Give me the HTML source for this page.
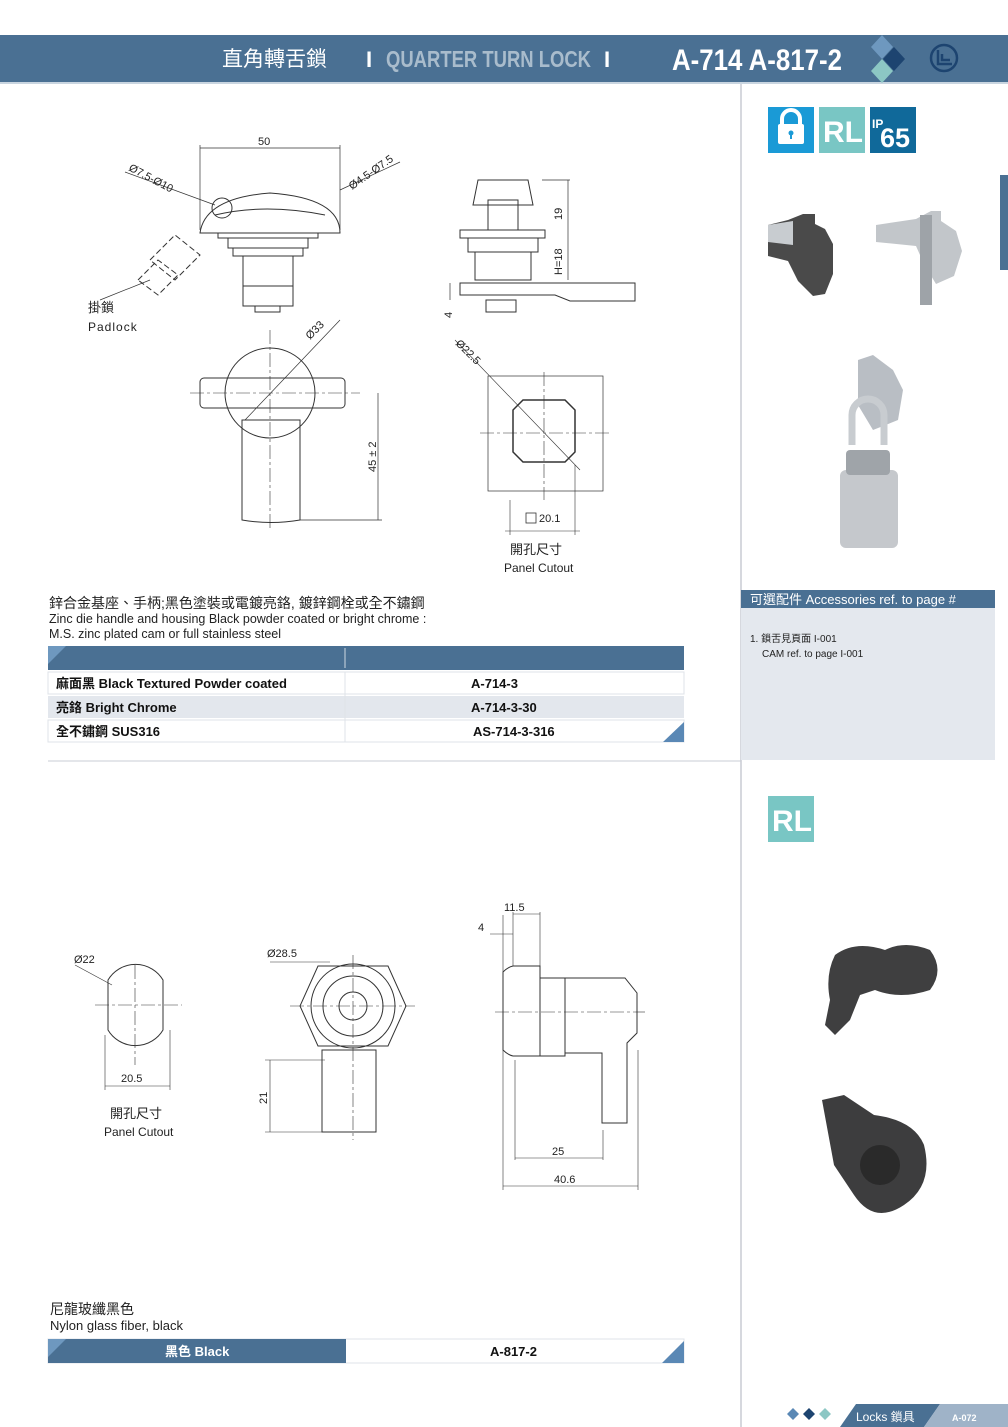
<!DOCTYPE html>
<html><head><meta charset="utf-8">
<style>
html,body{margin:0;padding:0;background:#fff;}
svg{display:block;}
text{font-family:"Liberation Sans","Noto Sans CJK TC",sans-serif;}
</style></head><body>
<svg width="1008" height="1427" viewBox="0 0 1008 1427" xmlns="http://www.w3.org/2000/svg">
<!-- header -->
<rect x="0" y="35" width="1008" height="47" fill="#4a7093"/>
<rect x="0" y="82" width="1008" height="2" fill="#c9d5e0"/>
<text x="222" y="66" font-size="21" fill="#fff">直角轉舌鎖</text>
<text x="366" y="67" font-size="22" fill="#fff" font-weight="bold">I</text>
<text x="386" y="67" font-size="23" fill="#a9bccc" font-weight="bold" textLength="205" lengthAdjust="spacingAndGlyphs">QUARTER TURN LOCK</text>
<text x="604" y="67" font-size="22" fill="#fff" font-weight="bold">I</text>
<text x="672" y="70" font-size="30" fill="#fff" font-weight="bold" textLength="170" lengthAdjust="spacingAndGlyphs">A-714 A-817-2</text>
<polygon points="882,35 893,47 882,59 871,47" fill="#6e98bf"/>
<polygon points="894,47 905,59 894,71 883,59" fill="#1d4470"/>
<polygon points="882,59 893,71 882,83 871,71" fill="#8cc7c4"/>
<circle cx="944" cy="58" r="13" fill="none" stroke="#1d4470" stroke-width="2.5"/>
<path d="M938 50 v14 h14 M942 54 v6 h8" fill="none" stroke="#1d4470" stroke-width="2.5"/>

<!-- sidebar lines -->
<line x1="741" y1="84" x2="741" y2="1427" stroke="#c8ccd4" stroke-width="1.5"/>
<line x1="48" y1="761" x2="741" y2="761" stroke="#c8ccd4" stroke-width="1"/>
<rect x="1000" y="175" width="8" height="95" fill="#4a7093"/>

<!-- icons -->
<rect x="768" y="107" width="46" height="46" fill="#1a9ad6"/>
<path d="M782 125 v-6 a9 9 0 0 1 18 0 v6" fill="none" stroke="#fff" stroke-width="4"/>
<rect x="778" y="124" width="26" height="20" rx="2" fill="#fff"/>
<circle cx="791" cy="133" r="2.5" fill="#1a9ad6"/><rect x="790" y="134" width="2" height="5" fill="#1a9ad6"/>
<rect x="819" y="107" width="46" height="46" fill="#79c6c4"/>
<text x="823" y="142" font-size="30" font-weight="bold" fill="#fff">RL</text>
<rect x="870" y="107" width="46" height="46" fill="#10699a"/>
<text x="872" y="128" font-size="12" font-weight="bold" fill="#fff">IP</text>
<text x="880" y="147" font-size="27" font-weight="bold" fill="#fff">65</text>

<!-- product photos top -->
<path d="M768 225 l20 -5 l15 -6 h12 v10 l10 5 l8 15 v30 l-8 20 l-12 2 l-15 -15 l-10 -20 l-20 -5 z" fill="#4a4a4a"/>
<path d="M768 225 l25 -4 v24 l-25 -3 z" fill="#c8ccd0"/>
<path d="M876 225 l40 -6 l15 -8 h10 v10 l15 10 l6 20 l-8 25 l-18 8 l-12 -20 l-8 -18 l-40 -4 z" fill="#c2c6ca"/>
<path d="M920 215 h12 v90 h-12 z" fill="#9ea3a8"/>
<!-- padlock photo -->
<path d="M858 360 l15 -5 l20 15 l10 20 l-5 30 l-25 10 l-15 -25 z" fill="#b9bec4"/>
<path d="M852 445 v-30 a16 16 0 0 1 32 0 v30" fill="none" stroke="#c8ccd0" stroke-width="7"/>
<rect x="840" y="470" width="58" height="78" rx="6" fill="#c5c8cc"/>
<rect x="846" y="450" width="44" height="25" rx="4" fill="#9fa4a9"/>

<!-- accessories -->
<rect x="741" y="590" width="254" height="170" fill="#e4e8ee"/>
<rect x="741" y="590" width="254" height="18" fill="#4a7093"/>
<text x="750" y="604" font-size="13" fill="#fff">可選配件 Accessories ref. to page #</text>
<text x="750" y="642" font-size="10" fill="#222">1. 鎖舌見頁面 I-001</text>
<text x="762" y="657" font-size="10" fill="#222">CAM  ref. to page I-001</text>

<!-- RL second -->
<rect x="768" y="796" width="46" height="46" fill="#79c6c4"/>
<text x="772" y="831" font-size="30" font-weight="bold" fill="#fff">RL</text>
<!-- bottom photos -->
<path d="M835 955 q20 -15 50 -5 q20 -10 45 0 q15 20 0 40 q-30 10 -55 0 l-15 5 l-10 25 l-15 15 l-10 -10 l5 -25 q-5 -25 5 -45z" fill="#3f3f40"/>
<path d="M822 1100 l22 -5 l30 20 q40 5 50 30 q10 40 -20 60 q-30 20 -50 -10 l-20 -30 z" fill="#3d3d3e"/>
<circle cx="880" cy="1165" r="20" fill="#2a2a2a"/>

<!-- footer -->
<polygon points="787,1414 793,1408 799,1414 793,1420" fill="#5a88b5"/>
<polygon points="803,1414 809,1408 815,1414 809,1420" fill="#1d4470"/>
<polygon points="819,1414 825,1408 831,1414 825,1420" fill="#8cc7c4"/>
<polygon points="840,1427 856,1404 940,1404 924,1427" fill="#4a7093"/>
<polygon points="924,1427 940,1404 1008,1404 1008,1427" fill="#9fb3c8"/>
<text x="856" y="1421" font-size="12" fill="#fff">Locks 鎖具</text>
<text x="952" y="1421" font-size="9" font-weight="bold" fill="#fff">A-072</text>

<!-- top spec text and table -->
<text x="49" y="608" font-size="14" fill="#222">鋅合金基座、手柄;黑色塗裝或電鍍亮鉻, 鍍鋅鋼栓或全不鏽鋼</text>
<text x="49" y="623" font-size="12.5" fill="#222">Zinc die handle and housing Black powder coated or bright chrome :</text>
<text x="49" y="638" font-size="12.5" fill="#222">M.S. zinc plated cam or full stainless steel</text>
<rect x="48" y="646" width="636" height="24" fill="#4a7093"/>
<polygon points="48,646 66,646 48,664" fill="#6e98bf"/>
<line x1="345" y1="648" x2="345" y2="668" stroke="#cfd8e2"/>
<rect x="48" y="672" width="636" height="22" fill="#fff" stroke="#dfe3e8"/>
<rect x="48" y="696" width="636" height="22" fill="#e3e7ed"/>
<rect x="48" y="720" width="636" height="22" fill="#fff" stroke="#dfe3e8"/>
<line x1="345" y1="672" x2="345" y2="742" stroke="#dfe3e8"/>
<polygon points="684,722 684,742 663,742" fill="#5a88b5"/>
<g font-size="13" fill="#111" font-weight="bold">
<text x="56" y="688">麻面黑 Black Textured Powder coated</text>
<text x="471" y="688">A-714-3</text>
<text x="56" y="712">亮鉻 Bright Chrome</text>
<text x="471" y="712">A-714-3-30</text>
<text x="56" y="736">全不鏽鋼 SUS316</text>
<text x="473" y="736">AS-714-3-316</text>
</g>

<!-- bottom spec -->
<text x="50" y="1314" font-size="14" fill="#222">尼龍玻纖黑色</text>
<text x="50" y="1330" font-size="13" fill="#222">Nylon glass fiber, black</text>
<rect x="48" y="1339" width="636" height="24" fill="#fff" stroke="#dfe3e8"/>
<rect x="48" y="1339" width="298" height="24" fill="#4a7093"/>
<polygon points="48,1339 66,1339 48,1357" fill="#6e98bf"/>
<polygon points="684,1341 684,1363 662,1363" fill="#5a88b5"/>
<text x="165" y="1356" font-size="13" fill="#fff" font-weight="bold">黑色 Black</text>
<text x="490" y="1356" font-size="13" fill="#111" font-weight="bold">A-817-2</text>

<!-- ===== drawings ===== -->
<g fill="none" stroke="#333" stroke-width="1">
<!-- top front view -->
<path d="M200 233 q5 -35 70 -40 q70 5 70 40 z"/>
<path d="M215 215 q50 -12 110 0"/>
<rect x="218" y="233" width="100" height="5"/>
<path d="M228 238 h80 v10 h-80 z M233 248 h70 v8 h-70z"/>
<rect x="243" y="256" width="50" height="30"/>
<path d="M243 286 h50 v20 h-50z M255 306 h25 v6 h-25z"/>
<circle cx="222" cy="208" r="10"/>
<line x1="200" y1="145" x2="200" y2="230" stroke-width="0.7"/>
<line x1="340" y1="145" x2="340" y2="230" stroke-width="0.7"/>
<line x1="200" y1="148" x2="340" y2="148" stroke-width="0.7"/>
<line x1="125" y1="172" x2="215" y2="205" stroke-width="0.7"/>
<line x1="340" y1="190" x2="400" y2="162" stroke-width="0.7"/>
<path d="M150 260 l25 -25 l25 20 l-25 25 z M138 280 l20 -20 l20 15 l-20 20z" stroke-dasharray="6 3"/>
<line x1="100" y1="300" x2="150" y2="280" stroke-width="0.7"/>
<!-- side view -->
<path d="M478 180 h50 l5 25 h-60 z"/>
<rect x="488" y="200" width="30" height="30"/>
<rect x="460" y="230" width="85" height="8"/>
<rect x="468" y="238" width="70" height="14"/>
<rect x="475" y="252" width="56" height="28"/>
<path d="M460 283 h175 v18 h-65 l-15 -6 h-95 z"/>
<rect x="486" y="300" width="30" height="12"/>
<line x1="542" y1="180" x2="570" y2="180" stroke-width="0.7"/>
<line x1="568" y1="180" x2="568" y2="280" stroke-width="0.7"/>
<line x1="450" y1="283" x2="450" y2="300" stroke-width="0.7"/>
<!-- top view handle -->
<rect x="200" y="378" width="145" height="30" rx="4"/>
<circle cx="270" cy="393" r="45"/>
<path d="M242 420 h58 v100 q-29 5 -58 0 z"/>
<line x1="270" y1="330" x2="270" y2="530" stroke-dasharray="14 3 3 3" stroke-width="0.6"/>
<line x1="190" y1="393" x2="360" y2="393" stroke-dasharray="14 3 3 3" stroke-width="0.6"/>
<line x1="378" y1="393" x2="378" y2="520" stroke-width="0.7"/>
<line x1="300" y1="520" x2="382" y2="520" stroke-width="0.7"/>
<line x1="245" y1="420" x2="340" y2="320" stroke-width="0.7"/>
<!-- cutout -->
<rect x="488" y="376" width="115" height="115" stroke-width="0.7"/>
<path d="M523 400 h42 l10 10 v42 l-10 10 h-42 l-10 -10 v-42 z" stroke-width="1.5"/>
<line x1="544" y1="372" x2="544" y2="500" stroke-dasharray="14 3 3 3" stroke-width="0.6"/>
<line x1="480" y1="433" x2="610" y2="433" stroke-dasharray="14 3 3 3" stroke-width="0.6"/>
<line x1="510" y1="500" x2="510" y2="535" stroke-width="0.6"/>
<line x1="575" y1="465" x2="575" y2="535" stroke-width="0.6"/>
<line x1="505" y1="531" x2="580" y2="531" stroke-width="0.6"/>
<line x1="455" y1="340" x2="580" y2="470" stroke-width="0.6"/>
<rect x="526" y="513" width="10" height="10" stroke-width="0.8"/>

<!-- bottom: cutout circle -->
<path d="M108 980 a32 32 0 0 1 55 0 v50 a32 32 0 0 1 -55 0 z"/>
<line x1="135" y1="965" x2="135" y2="1065" stroke-dasharray="14 3 3 3" stroke-width="0.6"/>
<line x1="95" y1="1005" x2="182" y2="1005" stroke-dasharray="14 3 3 3" stroke-width="0.6"/>
<line x1="105" y1="1035" x2="105" y2="1090" stroke-width="0.6"/>
<line x1="170" y1="1030" x2="170" y2="1090" stroke-width="0.6"/>
<line x1="105" y1="1086" x2="170" y2="1086" stroke-width="0.6"/>
<line x1="75" y1="965" x2="112" y2="985" stroke-width="0.6"/>
<!-- hex front -->
<path d="M318 966 h70 l18 40 l-18 40 h-70 l-18 -40 z"/>
<circle cx="353" cy="1006" r="42"/>
<circle cx="353" cy="1006" r="30"/>
<circle cx="353" cy="1006" r="14"/>
<path d="M322 1050 h54 v82 h-54z"/>
<line x1="353" y1="955" x2="353" y2="1140" stroke-dasharray="14 3 3 3" stroke-width="0.6"/>
<line x1="290" y1="1006" x2="415" y2="1006" stroke-dasharray="14 3 3 3" stroke-width="0.6"/>
<line x1="265" y1="1060" x2="325" y2="1060" stroke-width="0.6"/>
<line x1="265" y1="1132" x2="325" y2="1132" stroke-width="0.6"/>
<line x1="270" y1="1060" x2="270" y2="1132" stroke-width="0.6"/>
<line x1="270" y1="962" x2="330" y2="962" stroke-width="0.6"/>
<!-- side -->
<path d="M503 972 q5 -5 10 -6 h27 v90 h-27 q-5 -1 -10 -6 z"/>
<rect x="540" y="978" width="25" height="78"/>
<path d="M565 978 h60 l12 15 v40 l-10 10 v80 h-25 v-70 h-37 z"/>
<line x1="495" y1="1012" x2="645" y2="1012" stroke-dasharray="14 3 3 3" stroke-width="0.6"/>
<line x1="503" y1="915" x2="503" y2="1190" stroke-width="0.6"/>
<line x1="513" y1="912" x2="513" y2="966" stroke-width="0.6"/>
<line x1="540" y1="912" x2="540" y2="978" stroke-width="0.6"/>
<line x1="513" y1="914" x2="540" y2="914" stroke-width="0.6"/>
<line x1="490" y1="934" x2="513" y2="934" stroke-width="0.6"/>
<line x1="515" y1="1060" x2="515" y2="1160" stroke-width="0.6"/>
<line x1="603" y1="1130" x2="603" y2="1160" stroke-width="0.6"/>
<line x1="515" y1="1158" x2="603" y2="1158" stroke-width="0.6"/>
<line x1="638" y1="1050" x2="638" y2="1190" stroke-width="0.6"/>
<line x1="503" y1="1186" x2="638" y2="1186" stroke-width="0.6"/>
</g>
<g font-size="11" fill="#222">
<text x="258" y="145">50</text>
<text x="128" y="170" transform="rotate(28 128 170)">Ø7.5-Ø10</text>
<text x="352" y="190" transform="rotate(-35 352 190)">Ø4.5-Ø7.5</text>
<text x="88" y="312" font-size="13">掛鎖</text>
<text x="88" y="331" font-size="12" letter-spacing="1">Padlock</text>
<text x="562" y="220" transform="rotate(-90 562 220)">19</text>
<text x="562" y="275" transform="rotate(-90 562 275)">H=18</text>
<text x="452" y="318" transform="rotate(-90 452 318)">4</text>
<text x="310" y="340" transform="rotate(-45 310 340)">Ø33</text>
<text x="376" y="472" transform="rotate(-90 376 472)">45 ± 2</text>
<text x="455" y="344" transform="rotate(45 455 344)">Ø22.5</text>
<text x="539" y="522">20.1</text>
<text x="510" y="554" font-size="13">開孔尺寸</text>
<text x="504" y="572" font-size="12">Panel Cutout</text>
<text x="74" y="963">Ø22</text>
<text x="121" y="1082">20.5</text>
<text x="110" y="1118" font-size="13">開孔尺寸</text>
<text x="104" y="1136" font-size="12">Panel Cutout</text>
<text x="267" y="957">Ø28.5</text>
<text x="267" y="1104" transform="rotate(-90 267 1104)">21</text>
<text x="504" y="911">11.5</text>
<text x="478" y="931">4</text>
<text x="552" y="1155">25</text>
<text x="554" y="1183">40.6</text>
</g>
</svg>
</body></html>
